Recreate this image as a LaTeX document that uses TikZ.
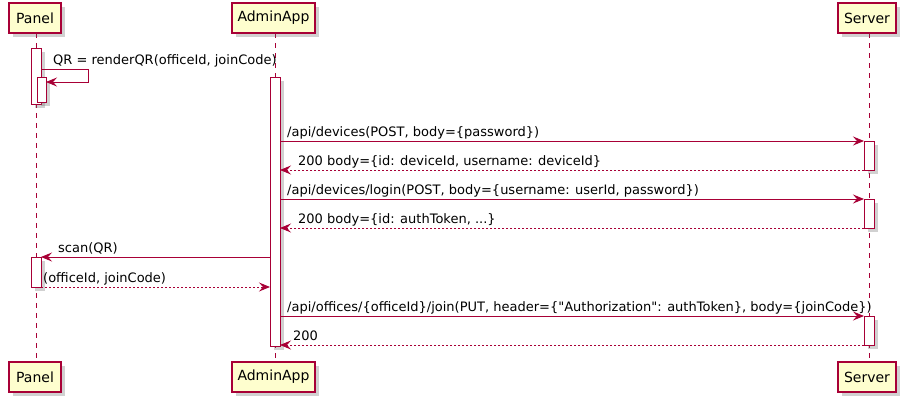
\documentclass[tikz,border=0pt]{standalone}
\usepackage{fontspec}
\setmainfont{DejaVu Sans}
\newfontfamily\plainfont{DejaVu Sans}
\usetikzlibrary{arrows.meta,shadows}
\definecolor{pu}{HTML}{A80036}
\definecolor{pfill}{HTML}{FEFECE}
\begin{document}
\begin{tikzpicture}[x=1pt,y=-1pt,
  shad/.style={drop shadow={shadow xshift=3.5pt,shadow yshift=-3.5pt,opacity=0.3,fill=black!60}},
  part/.style={draw=pu, fill=pfill, line width=1.3pt, minimum height=30pt, inner sep=0pt, font=\plainfont\fontsize{14}{16}\selectfont, shad},
  life/.style={draw=pu, line width=0.9pt, dash pattern=on 5pt off 5pt},
  act/.style={draw=pu, fill=white, line width=1pt, shad},
  msg/.style={draw=pu, line width=0.9pt, -{Stealth[length=11pt,width=9pt,inset=4pt]}},
  ret/.style={msg, dash pattern=on 2pt off 2pt},
  lbl/.style={anchor=base west, inner sep=0pt, font=\plainfont\fontsize{13}{15}\selectfont}
]
\useasboundingbox (0,0) rectangle (906,402);
% lifelines
\draw[life] (36,33) -- (36,362);
\draw[life] (275,33) -- (275,362);
\draw[life] (869,33) -- (869,362);
% participants
\node[part, minimum width=52pt] (pt) at (35,18) {Panel};
\node[part, minimum width=83pt] (at) at (273.5,18) {AdminApp};
\node[part, minimum width=58pt] (st) at (867,18) {Server};
\node[part, minimum width=52pt] (pb) at (35,377) {Panel};
\node[part, minimum width=83pt] (ab) at (273.5,377) {AdminApp};
\node[part, minimum width=58pt] (sb) at (867,377) {Server};
% activations
\path[act] (31,48) rectangle (41,104);
\path[act] (37,77) rectangle (46,102);
\path[act] (270,77) rectangle (280,346);
\path[act] (864,141) rectangle (874,170);
\path[act] (864,199) rectangle (874,228);
\path[act] (31,257) rectangle (41,287);
\path[act] (864,316) rectangle (874,345);
% coordinates
\coordinate (p0a) at (41,69);
\coordinate (p0b) at (88,69);
\coordinate (p0c) at (88,82);
\coordinate (p0d) at (46,82);
\coordinate (a1) at (280,141); \coordinate (s1) at (864,141);
\coordinate (s2) at (864,170); \coordinate (a2) at (280,170);
\coordinate (a3) at (280,199); \coordinate (s3) at (864,199);
\coordinate (s4) at (864,228); \coordinate (a4) at (280,228);
\coordinate (a5) at (270,257); \coordinate (p5) at (41,257);
\coordinate (p6) at (41,287); \coordinate (a6) at (270,287);
\coordinate (a7) at (280,316); \coordinate (s7) at (864,316);
\coordinate (s8) at (864,345); \coordinate (a8) at (280,345);
% messages
\draw[msg] (p0a) -- (p0b) -- (p0c) -- (p0d);
\node[lbl] (l0) at (53,64) {QR = renderQR(officeId, joinCode)};
\draw[msg] (a1) -- (s1);
\node[lbl] (l1) at (287,136) {/api/devices(POST, body=\{password\})};
\draw[ret] (s2) -- (a2);
\node[lbl] (l2) at (298,165) {200 body=\{id: deviceId, username: deviceId\}};
\draw[msg] (a3) -- (s3);
\node[lbl] (l3) at (287,194) {/api/devices/login(POST, body=\{username: userId, password\})};
\draw[ret] (s4) -- (a4);
\node[lbl] (l4) at (298,223) {200 body=\{id: authToken, ...\}};
\draw[msg] (a5) -- (p5);
\node[lbl] (l5) at (58,252) {scan(QR)};
\draw[ret] (p6) -- (a6);
\node[lbl] (l6) at (43,282) {(officeId, joinCode)};
\draw[msg] (a7) -- (s7);
\node[lbl] (l7) at (287,311) {/api/offices/\{officeId\}/join(PUT, header=\{"Authorization": authToken\}, body=\{joinCode\})};
\draw[ret] (s8) -- (a8);
\node[lbl] (l8) at (293,340) {200};
\end{tikzpicture}
\end{document}
